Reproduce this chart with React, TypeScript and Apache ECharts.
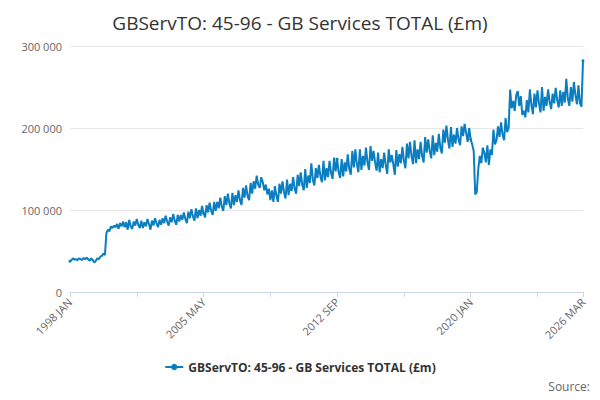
import { useEffect, useRef } from "react";
import * as echarts from "echarts";

const MONTHS = ["JAN", "FEB", "MAR", "APR", "MAY", "JUN", "JUL", "AUG", "SEP", "OCT", "NOV", "DEC"];

// monthly values, £m (thousands), one row per year 1998..2026
const Y1998 = [37.5, 39, 41, 39.5, 40, 39, 41, 40, 39, 41.5, 40, 42];
const Y1999 = [40, 38, 41, 39, 36, 38, 41, 40, 43, 44, 47, 45];
const Y2000 = [72, 76, 74, 80, 78, 81, 79, 83, 77, 84, 80, 86];
const Y2001 = [79, 85, 76, 88, 80, 77, 86, 81, 89, 82, 78, 87];
const Y2002 = [78, 85, 80, 89, 83, 76, 87, 81, 90, 84, 79, 88];
const Y2003 = [82, 90, 84, 93, 86, 81, 91, 85, 95, 87, 82, 94];
const Y2004 = [86, 94, 88, 97, 89, 84, 98, 90, 101, 92, 87, 102];
const Y2005 = [90, 100, 93, 105, 96, 91, 106, 97, 109, 99, 94, 110];
const Y2006 = [99, 110, 102, 115, 104, 99, 117, 106, 120, 108, 102, 121];
const Y2007 = [106, 118, 110, 124, 112, 106, 127, 115, 130, 117, 112, 133];
const Y2008 = [120, 135, 126, 142, 131, 127, 140, 134, 124, 131, 119, 126];
const Y2009 = [112, 124, 110, 129, 117, 110, 132, 120, 135, 122, 114, 137];
const Y2010 = [118, 132, 123, 140, 126, 120, 143, 129, 146, 131, 124, 150];
const Y2011 = [127, 142, 133, 157, 137, 130, 151, 139, 155, 141, 134, 160];
const Y2012 = [136, 151, 140, 160, 145, 138, 164, 147, 162, 146, 139, 162];
const Y2013 = [141, 158, 147, 168, 150, 143, 172, 152, 174, 156, 146, 174];
const Y2014 = [149, 166, 154, 176, 158, 149, 178, 160, 172, 158, 148, 170];
const Y2015 = [146, 162, 151, 170, 155, 144, 174, 158, 167, 156, 143, 173];
const Y2016 = [153, 168, 157, 177, 160, 151, 181, 163, 183, 166, 156, 185];
const Y2017 = [157, 174, 162, 183, 166, 158, 189, 170, 186, 172, 163, 191];
const Y2018 = [167, 182, 171, 193, 176, 169, 198, 182, 203, 186, 175, 201];
const Y2019 = [177, 192, 181, 200, 186, 179, 202, 190, 205, 194, 183, 200];
const Y2020 = [186, 180, 172, 119, 122, 150, 166, 157, 176, 170, 158, 179];
const Y2021 = [155, 174, 167, 198, 180, 185, 202, 189, 207, 192, 185, 212];
const Y2022 = [195, 200, 247, 224, 233, 221, 240, 245, 227, 239, 216, 221];
const Y2023 = [213, 234, 219, 247, 228, 217, 242, 225, 246, 230, 219, 250];
const Y2024 = [221, 238, 227, 247, 232, 223, 242, 230, 249, 234, 225, 246];
const Y2025 = [227, 244, 231, 260, 236, 227, 250, 232, 256, 240, 229, 252];
const Y2026 = [230, 226, 282];

const YEARS = [
  Y1998, Y1999, Y2000, Y2001, Y2002, Y2003, Y2004, Y2005, Y2006, Y2007,
  Y2008, Y2009, Y2010, Y2011, Y2012, Y2013, Y2014, Y2015, Y2016, Y2017,
  Y2018, Y2019, Y2020, Y2021, Y2022, Y2023, Y2024, Y2025, Y2026,
];

const categories: string[] = [];
const values: number[] = [];
YEARS.forEach((row, yi) => {
  row.forEach((v, mi) => {
    categories.push(`${1998 + yi} ${MONTHS[mi]}`);
    values.push(Math.round(v * 1000));
  });
});

const NAME = "GBServTO: 45-96 - GB Services TOTAL (£m)";
const BLUE = "#0B7EC1";
const FONT = "'Open Sans', 'DejaVu Sans', sans-serif";

export default function App() {
  const ref = useRef<HTMLDivElement>(null);

  useEffect(() => {
    if (!ref.current) return;
    const chart = echarts.init(ref.current, null, { renderer: "svg" });
    const last = categories.length - 1;
    chart.setOption({
      animation: false,
      textStyle: { fontFamily: FONT },
      title: {
        text: NAME,
        left: "center",
        top: 0,
        textStyle: { fontSize: 19, fontWeight: "normal", color: "#333" },
      },
      legend: {
        bottom: 14,
        left: "center",
        itemWidth: 18,
        itemHeight: 8,
        textStyle: { fontSize: 12, fontWeight: "bold", color: "#333" },
        data: [NAME],
      },
      graphic: [
        {
          type: "text",
          right: 2,
          bottom: 0,
          style: { text: "Source:", fill: "#666", fontSize: 12, fontFamily: FONT },
        },
      ],
      grid: { left: 62, right: 9, top: 38, bottom: 100 },
      xAxis: {
        type: "category",
        data: categories,
        boundaryGap: false,
        axisLine: { lineStyle: { color: "#ccd6eb" } },
        axisTick: { lineStyle: { color: "#ccd6eb" }, interval: (i: number) => i % 44 === 0 || i === last },
        axisLabel: {
          color: "#666",
          fontSize: 11,
          rotate: 45,
          interval: (i: number) => i % 88 === 0 || i === last,
        },
      },
      yAxis: {
        type: "value",
        min: 0,
        max: 300000,
        interval: 100000,
        axisLabel: {
          color: "#666",
          fontSize: 11,
          formatter: (v: number) => (v === 0 ? "0" : `${v / 1000} 000`),
        },
        splitLine: { lineStyle: { color: "#e6e6e6" } },
      },
      series: [
        {
          name: NAME,
          type: "line",
          data: values,
          symbol: "circle",
          symbolSize: 3,
          showSymbol: true,
          lineStyle: { color: BLUE, width: 2 },
          itemStyle: { color: BLUE },
        },
      ],
    });
    return () => chart.dispose();
  }, []);

  return <div ref={ref} style={{ width: 584, height: 384 }} />;
}
